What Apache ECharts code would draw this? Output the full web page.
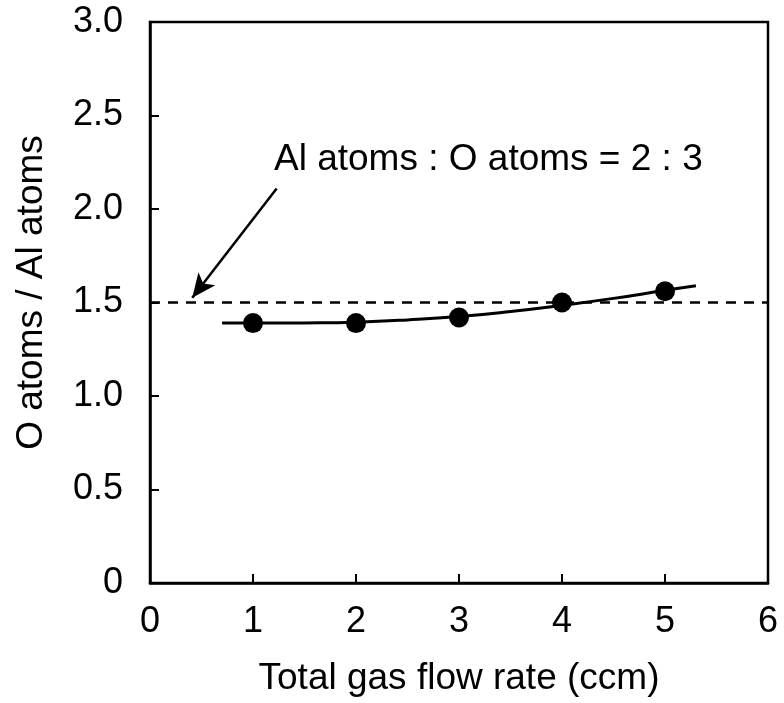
<!DOCTYPE html>
<html><head><meta charset="utf-8">
<script src="https://cdn.jsdelivr.net/npm/echarts@6/dist/echarts.min.js"></script>
<style>html,body{margin:0;padding:0;background:#fff}#c{width:784px;height:703px}</style>
</head><body><div id="c"></div>
<script>
var flowRate = [1, 2, 3, 4, 5];
var ratio = [1.39, 1.39, 1.42, 1.50, 1.56];
var trendX = [0.7, 1, 1.5, 2, 2.5, 3, 3.5, 4, 4.5, 5, 5.3];
var trendY = [1.39, 1.39, 1.391, 1.395, 1.407, 1.425, 1.452, 1.485, 1.522, 1.565, 1.59];
var refLevel = 1.5;
var annotationText = 'Al atoms : O atoms = 2 : 3';
var arrowFrom = [1.23, 2.11];
var arrowTo = [0.41, 1.525];
var F = 'Liberation Sans, Arial, sans-serif';
var chart = echarts.init(document.getElementById('c'), null, {renderer: 'canvas'});
chart.setOption({
  animation: false,
  backgroundColor: '#fff',
  grid: {left: 150, top: 22, width: 618, height: 561, containLabel: false, outerBoundsMode: 'none',
    show: true, borderColor: '#000', borderWidth: 2.5, backgroundColor: 'transparent'},
  xAxis: {
    type: 'value', min: 0, max: 6, interval: 1,
    name: 'Total gas flow rate (ccm)', nameLocation: 'middle', nameGap: 77,
    nameTextStyle: {fontFamily: F, fontSize: 37, color: '#000'},
    axisLine: {show: true, lineStyle: {color: '#000', width: 2.5}},
    axisTick: {show: true, inside: true, length: 9, lineStyle: {color: '#000', width: 2}},
    axisLabel: {fontFamily: F, fontSize: 36, color: '#000', margin: 21},
    splitLine: {show: false}
  },
  yAxis: {
    type: 'value', min: 0, max: 3, interval: 0.5,
    name: 'O atoms / Al atoms', nameLocation: 'middle', nameGap: 100, nameRotate: 90,
    nameTextStyle: {fontFamily: F, fontSize: 37, color: '#000', padding: [0, 0, 0, 20]},
    axisLine: {show: true, lineStyle: {color: '#000', width: 2.5}},
    axisTick: {show: true, inside: true, length: 9, lineStyle: {color: '#000', width: 2}},
    axisLabel: {fontFamily: F, fontSize: 36, color: '#000', margin: 27,
      formatter: function (v) { return v === 0 ? '0' : v.toFixed(1); }},
    splitLine: {show: false}
  },
  series: [
    {
      type: 'line', data: [[0, refLevel], [6, refLevel]], symbol: 'none',
      lineStyle: {color: '#000', width: 2.5, type: [10, 8]}, z: 1
    },
    {
      type: 'line', data: trendX.map(function (x, i) { return [x, trendY[i]]; }),
      smooth: true, symbol: 'none', lineStyle: {color: '#000', width: 3}, z: 2
    },
    {
      type: 'scatter', data: flowRate.map(function (x, i) { return [x, ratio[i]]; }),
      symbol: 'circle', symbolSize: 20, itemStyle: {color: '#000', opacity: 1}, z: 3,
      markLine: {
        silent: true, symbol: ['none', 'arrow'], symbolSize: [16, 24],
        lineStyle: {color: '#000', width: 2.5, type: 'solid'},
        label: {show: false},
        data: [[{coord: arrowFrom}, {coord: arrowTo}]]
      }
    }
  ],
  graphic: [{
    type: 'text', left: 274, top: 141,
    style: {text: annotationText, fontFamily: F, fontSize: 37, fill: '#000'}
  }]
});
</script></body></html>
